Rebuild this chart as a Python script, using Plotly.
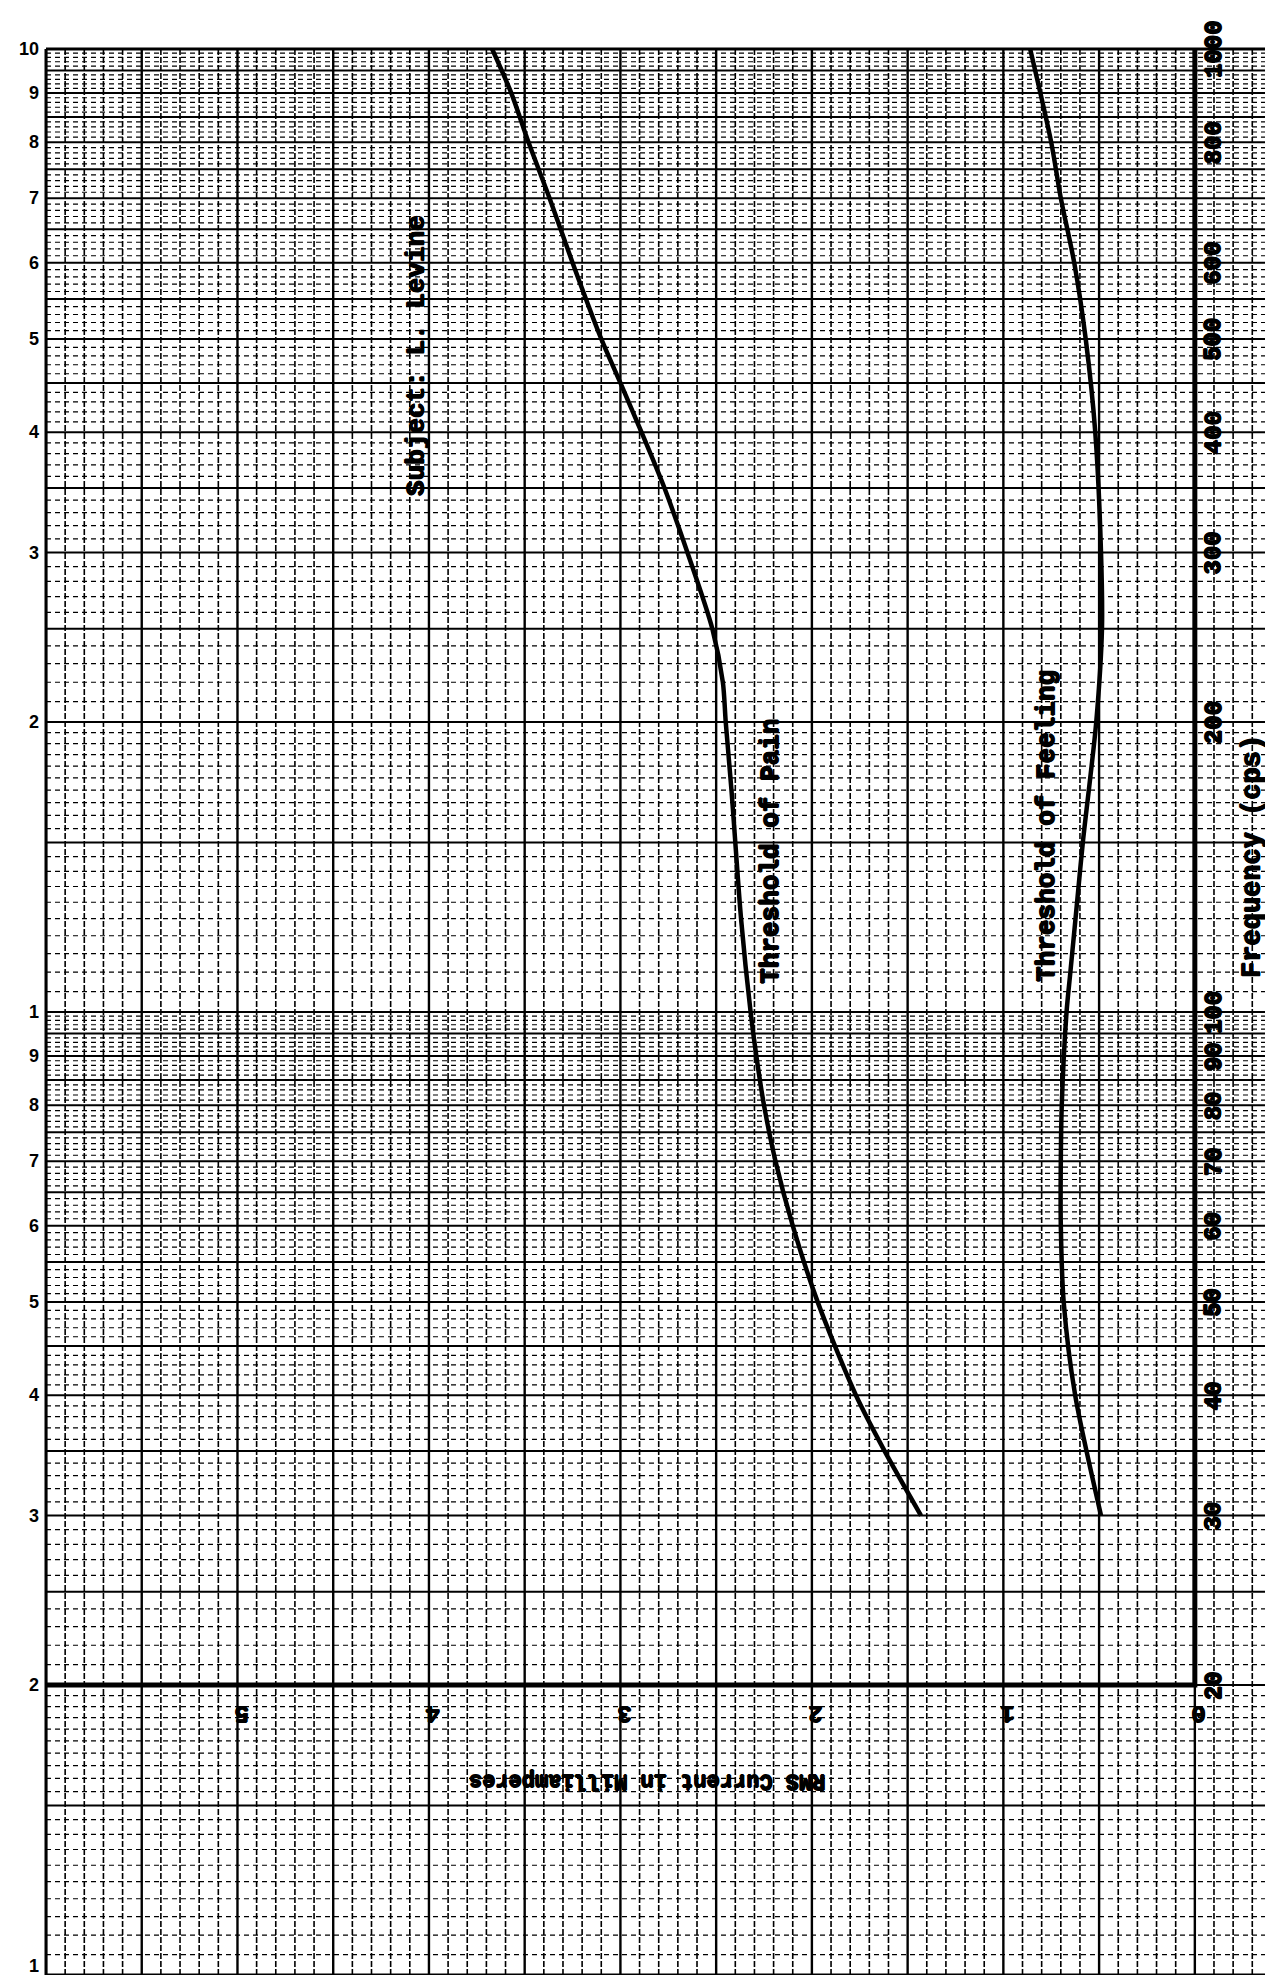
import numpy as np
import plotly.graph_objects as go

# ---------------- data ----------------
pain_freq = [1000, 900, 800, 700, 600, 500, 450, 400, 350, 300, 250, 220, 200, 170, 150, 125, 100, 90, 80, 70, 60, 50, 40, 35, 30]
pain_ma   = [3.67, 3.57, 3.48, 3.37, 3.25, 3.10, 3.00, 2.89, 2.77, 2.65, 2.52, 2.465, 2.45, 2.42, 2.40, 2.37, 2.32, 2.29, 2.25, 2.19, 2.10, 1.97, 1.77, 1.62, 1.43]

feel_freq = [1000, 800, 700, 600, 500, 400, 300, 250, 200, 150, 130, 110, 100, 80, 70, 60, 50, 40, 30]
feel_ma   = [0.86, 0.75, 0.70, 0.63, 0.57, 0.52, 0.49, 0.485, 0.515, 0.585, 0.615, 0.65, 0.67, 0.695, 0.70, 0.70, 0.685, 0.625, 0.49]

freq_tick_vals = [20, 30, 40, 50, 60, 70, 80, 90, 100, 200, 300, 400, 500, 600, 800, 1000]
freq_tick_text = ["20", "30", "40", "50", "60", "70", "80", "90", "100", "200", "300", "400", "500", "600", "800", "1000"]

paper_lbl_vals = [1000, 900, 800, 700, 600, 500, 400, 300, 200, 100, 90, 80, 70, 60, 50, 40, 30, 20, 10]
paper_lbl_text = ["10", "9", "8", "7", "6", "5", "4", "3", "2", "1", "9", "8", "7", "6", "5", "4", "3", "2", "1"]

ma_tick_vals = [5, 4, 3, 2, 1, 0]
ma_tick_text = ["5", "4", "3", "2", "1", "0"]

X_LEFT, X_RIGHT = 6.0, -0.45
MONO = "Liberation Mono"
HEAVY = "0.7px 0 0 black, -0.7px 0 0 black, 0 0.7px 0 black, 0 -0.7px 0 black"

fig = go.Figure()

# ---------------- graph-paper grid ----------------
def hlines(ys):
    xs, yy = [], []
    for y in ys:
        xs += [X_LEFT, X_RIGHT, None]
        yy += [y, y, None]
    return xs, yy

def vlines(xs_, y0=10, y1=1000):
    xs, yy = [], []
    for x in xs_:
        xs += [x, x, None]
        yy += [y0, y1, None]
    return xs, yy

solid_h, dash_h = [], []
for dec in (10, 100):
    m_vals = list(np.round(np.arange(1.0, 2.0, 0.05), 2)) + list(np.round(np.arange(2.0, 10.01, 0.1), 2))
    for m in m_vals:
        f = m * dec
        if abs(m * 2 - round(m * 2)) < 1e-6:
            solid_h.append(f)
        else:
            dash_h.append(f)

x, y = hlines(dash_h)
fig.add_trace(go.Scatter(x=x, y=y, mode="lines", line=dict(color="black", width=1.2, dash="5px,4px"),
                         hoverinfo="skip", showlegend=False))
x, y = hlines(solid_h)
fig.add_trace(go.Scatter(x=x, y=y, mode="lines", line=dict(color="black", width=2),
                         hoverinfo="skip", showlegend=False))

v_minor, v_major = [], []
for k in range(-4, 61):
    v = k / 10
    if k % 5 == 0:
        v_major.append(v)
    else:
        v_minor.append(v)
x, y = vlines(v_minor)
fig.add_trace(go.Scatter(x=x, y=y, mode="lines", line=dict(color="black", width=1.6, dash="6px,2px"),
                         hoverinfo="skip", showlegend=False))
x, y = vlines(v_major)
fig.add_trace(go.Scatter(x=x, y=y, mode="lines", line=dict(color="black", width=2.4),
                         hoverinfo="skip", showlegend=False))

# hand-drawn axes: thick line at 0 mA and at 20 cps
fig.add_trace(go.Scatter(x=[0, 0, X_LEFT], y=[1000, 20, 20], mode="lines",
                         line=dict(color="black", width=5), hoverinfo="skip", showlegend=False))

# ---------------- curves ----------------
fig.add_trace(go.Scatter(x=pain_ma, y=pain_freq, mode="lines", name="Threshold of Pain",
                         line=dict(color="black", width=4.5, shape="spline", smoothing=0.8), showlegend=False))
fig.add_trace(go.Scatter(x=feel_ma, y=feel_freq, mode="lines", name="Threshold of Feeling",
                         line=dict(color="black", width=4.5, shape="spline", smoothing=0.8), showlegend=False))

ann = []
# printed log-paper labels on the left
for v, t in zip(paper_lbl_vals, paper_lbl_text):
    ann.append(dict(x=0, xref="paper", y=np.log10(v), yref="y", text="<b>" + t + "</b>", showarrow=False,
                    xanchor="right", xshift=-5, yshift=(9 if v == 10 else 0),
                    font=dict(family="Liberation Sans", size=18, color="black")))
# frequency tick labels (typed, rotated)
for v, t in zip(freq_tick_vals, freq_tick_text):
    ann.append(dict(x=-0.1, y=np.log10(v), text="<b>" + t + "</b>", showarrow=False, textangle=-90,
                    font=dict(family=MONO, size=24, color="black", shadow=HEAVY)))
# current tick labels (upside down)
for v, t in zip(ma_tick_vals, ma_tick_text):
    ann.append(dict(x=v, y=np.log10(18.7), text="<b>" + t + "</b>", showarrow=False, textangle=180,
                    xshift=4, font=dict(family=MONO, size=24, color="black", shadow=HEAVY)))

ann.append(dict(x=2.86, y=np.log10(15.9), text="<b>RMS Current in Milliamperes</b>", showarrow=False,
                textangle=180, font=dict(family=MONO, size=22, color="black", shadow=HEAVY)))
ann.append(dict(x=-0.30, y=np.log10(145), text="<b>Frequency (cps)</b>", showarrow=False,
                textangle=-90, font=dict(family=MONO, size=27, color="black", shadow=HEAVY)))
ann.append(dict(x=0.773, y=np.log10(156), text="<b>Threshold of Feeling</b>", showarrow=False,
                textangle=-90, font=dict(family=MONO, size=26, color="black", shadow=HEAVY)))
ann.append(dict(x=2.214, y=np.log10(147), text="<b>Threshold of Pain</b>", showarrow=False,
                textangle=-90, font=dict(family=MONO, size=26, color="black", shadow=HEAVY)))
ann.append(dict(x=4.063, y=np.log10(481), text="<b>Subject: L. Levine</b>", showarrow=False,
                textangle=-90, font=dict(family=MONO, size=26, color="black", shadow=HEAVY)))

fig.update_layout(
    width=1273, height=1975,
    margin=dict(l=38, r=0, t=41, b=8),
    paper_bgcolor="white", plot_bgcolor="white",
    annotations=ann,
    xaxis=dict(range=[X_LEFT, X_RIGHT], showgrid=False, zeroline=False, showticklabels=False,
               showline=False, ticks=""),
    yaxis=dict(type="log", range=[1, 3], showgrid=False, zeroline=False, showticklabels=False,
               showline=False, ticks=""),
)
fig.add_shape(type="line", xref="paper", yref="paper", x0=0, x1=1, y0=1, y1=1, line=dict(color="black", width=3))
fig.add_shape(type="line", xref="paper", yref="paper", x0=0, x1=1, y0=0, y1=0, line=dict(color="black", width=3))
fig.add_shape(type="line", xref="paper", yref="paper", x0=0, x1=0, y0=0, y1=1, line=dict(color="black", width=3))

fig.write_html("out.html")
